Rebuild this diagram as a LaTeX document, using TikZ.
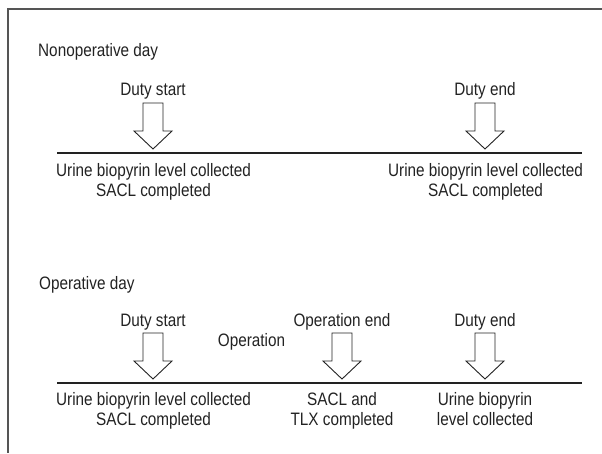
\documentclass[tikz,border=0pt]{standalone}
\usepackage{fontspec}
\setmainfont[FakeStretch=0.85]{Liberation Sans}
\definecolor{ink}{HTML}{222222}
\definecolor{framecol}{HTML}{555555}
\begin{document}
\begin{tikzpicture}[x=1pt,y=-1pt,
  lbl/.style={inner sep=0pt,anchor=base,text=ink,align=center,font=\fontsize{18}{20}\selectfont},
  frameline/.style={draw=framecol,line width=1.6pt},
  timeline/.style={draw=ink,line width=1.2pt},
  arrowline/.style={draw=ink,line width=0.9pt,line join=miter},
  bigarrow/.pic={\draw[arrowline] (-10,-46) -- (10,-46) -- (10,-18) -- (19,-18) -- (0,0) -- (-19,-18) -- (-10,-18) -- cycle;}
]
\useasboundingbox (0,0) rectangle (602,453);
% frame
\coordinate (fr1) at (602,9);
\coordinate (fr2) at (8,9);
\coordinate (fr3) at (8,453);
\draw[frameline] (fr1) -- (fr2) -- (fr3);

% Nonoperative day
\node[lbl,anchor=base west] (nonop) at (38,56) {Nonoperative day};
\node[lbl] (ds1) at (153,95) {Duty start};
\node[lbl] (de1) at (485,95) {Duty end};
\pic at (153,149) {bigarrow};
\pic at (485,149) {bigarrow};
\coordinate (l1a) at (57,153);
\coordinate (l1b) at (582,153);
\draw[timeline] (l1a) -- (l1b);
\node[lbl] (t1a) at (153.5,196) {Urine biopyrin level collected\\SACL completed};
\node[lbl] (t1b) at (485.5,196) {Urine biopyrin level collected\\SACL completed};

% Operative day
\node[lbl,anchor=base west] (op) at (39,289) {Operative day};
\node[lbl] (ds2) at (153,326) {Duty start};
\node[lbl] (oe2) at (342,326) {Operation end};
\node[lbl] (de2) at (485,326) {Duty end};
\node[lbl] (oper) at (251.5,346) {Operation};
\pic at (153,379) {bigarrow};
\pic at (342,379) {bigarrow};
\pic at (485,379) {bigarrow};
\coordinate (l2a) at (57,383);
\coordinate (l2b) at (582,383);
\draw[timeline] (l2a) -- (l2b);
\node[lbl] (t2a) at (153.5,425) {Urine biopyrin level collected\\SACL completed};
\node[lbl] (t2b) at (342,425) {SACL and\\TLX completed};
\node[lbl] (t2c) at (485,425) {Urine biopyrin\\level collected};
\end{tikzpicture}
\end{document}
